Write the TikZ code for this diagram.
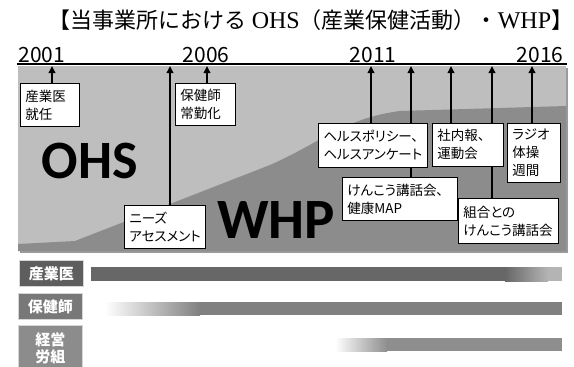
\documentclass[tikz,border=0pt]{standalone}
\usepackage{fontspec}
\usetikzlibrary{arrows.meta}
\newfontfamily\jp[RawFeature=+palt]{Noto Sans CJK JP}
\newfontfamily\jpplain{Noto Sans CJK JP}
\newfontfamily\calfont{Carlito}
\newfontfamily\serifl{Liberation Serif}
\definecolor{lightarea}{HTML}{BEBEBE}
\definecolor{darkarea}{HTML}{8C8C8C}
\definecolor{shadowgray}{HTML}{9A9A9A}
\definecolor{labA}{HTML}{5E5E5E}
\definecolor{labB}{HTML}{787878}
\definecolor{labC}{HTML}{8C8C8C}
\definecolor{barA}{HTML}{676767}
\definecolor{barAend}{HTML}{B4B4B4}
\definecolor{barB}{HTML}{808080}
\definecolor{barC}{HTML}{8E8E8E}
\definecolor{labedge}{HTML}{D6D6D6}
\begin{document}
\begin{tikzpicture}[x=1pt,y=-1pt,
  yearlabel/.style={font=\jpplain\fontsize{21}{24}\selectfont, inner sep=0, anchor=base},
  bigtext/.style={font=\calfont\bfseries\fontsize{54}{58}\selectfont, inner sep=0},
  evbox/.style={draw=black, line width=0.8pt, fill=white, inner xsep=5pt, inner ysep=0pt,
    align=left, anchor=north west, font=\jp\fontsize{13.5}{18}\selectfont},
  evarrow/.style={line width=1.8pt, -{Triangle[width=6.5pt,length=7pt]}},
  rowlabel/.style={draw=labedge, line width=0.8pt, text=white, inner sep=0, align=center,
    anchor=north west, minimum width=64pt, font=\jpplain\bfseries\fontsize{15}{17}\selectfont}
]
\useasboundingbox (0,0) rectangle (574,367);
\fill[white] (0,0) rectangle (574,367);

% title
\node[font=\jpplain\fontsize{22}{26}\selectfont, inner sep=0] (title) at (311,20)
  {【当事業所における {\serifl\fontsize{24}{26}\selectfont OHS}（産業保健活動）・{\serifl\fontsize{24}{26}\selectfont WHP}】};

% chart areas
\fill[shadowgray] (20,68) rectangle (568,253);
\fill[lightarea] (18,66) rectangle (566,251);
\fill[darkarea] (18,251) -- (18,244) -- (75,241) -- (270,165)
  .. controls (320,143) and (345,118) .. (400,111) -- (566,106) -- (566,251) -- cycle;

% big labels
\node[bigtext] (ohs) at (90,161) {OHS};
\node[bigtext, font=\calfont\bfseries\fontsize{57}{60}\selectfont] (whp) at (276,220) {WHP};

% timeline
\draw[line width=1.5pt] (17,64) -- (567,64);
\node[yearlabel] (y2001) at (42,62) {2001};
\node[yearlabel] (y2006) at (206,62) {2006};
\node[yearlabel] (y2011) at (373,62) {2011};
\node[yearlabel] (y2016) at (540,62) {2016};

\coordinate (t1) at (52,66);
\coordinate (t2) at (170,66);
\coordinate (t3) at (207,66);
\coordinate (t4) at (371,66);
\coordinate (t5) at (411,66);
\coordinate (t6) at (451,66);
\coordinate (t7) at (492,66);
\coordinate (t8) at (532,66);

% event boxes (positions)
\path
  (20,83)   coordinate (p1)
  (124,205) coordinate (p2)
  (175,83)  coordinate (p3)
  (318,123) coordinate (p4)
  (342,177) coordinate (p5)
  (432,123) coordinate (p6)
  (458,198) coordinate (p7)
  (507,123) coordinate (p8);

% arrows first (they pass behind boxes)
\draw[evarrow] (p1 -| t1) -- (t1);
\draw[evarrow] (p2 -| t2) -- (t2);
\draw[evarrow] (p3 -| t3) -- (t3);
\draw[evarrow] (p4 -| t4) -- (t4);
\draw[evarrow] (p5 -| t5) -- (t5);
\draw[evarrow] (p6 -| t6) -- (t6);
\draw[evarrow] (p7 -| t7) -- (t7);
\draw[evarrow] (p8 -| t8) -- (t8);

\node[evbox, text width=49pt, minimum height=43pt] (b1) at (p1) {産業医\\就任};
\node[evbox, text width=71pt, minimum height=43pt] (b2) at (p2) {ニーズ\\アセスメント};
\node[evbox, text width=50pt, minimum height=42pt] (b3) at (p3) {保健師\\常勤化};
\node[evbox, text width=99pt, minimum height=44pt] (b4) at (p4) {ヘルスポリシー、\\ヘルスアンケート};
\node[evbox, text width=105pt, minimum height=43pt] (b5) at (p5) {けんこう講話会、\\健康MAP};
\node[evbox, text width=61pt, minimum height=43pt] (b6) at (p6) {社内報、\\運動会};
\node[evbox, text width=90pt, minimum height=45pt] (b7) at (p7) {組合との\\けんこう講話会};
\node[evbox, text width=43pt, minimum height=59pt] (b8) at (p8) {ラジオ\\体操\\週間};

% bottom rows
\node[rowlabel, fill=labA, minimum height=26pt] (l1) at (19,260) {産業医};
\node[rowlabel, fill=labB, minimum height=26pt] (l2) at (18,293) {保健師};
\node[rowlabel, fill=labC, minimum height=46pt] (l3) at (18,325) {経営\\労組};

\fill[barA] (91,267) rectangle (505,281);
\shade[left color=barA, right color=barAend] (505,267) rectangle (548,281);
\fill[barAend] (548,267) rectangle (562,281);

\shade[left color=white, right color=barB] (105,302) rectangle (200,315);
\fill[barB] (200,302) rectangle (562,315);

\shade[left color=white, right color=barC] (335,338) rectangle (387,351);
\fill[barC] (387,338) rectangle (562,351);
\end{tikzpicture}
\end{document}
